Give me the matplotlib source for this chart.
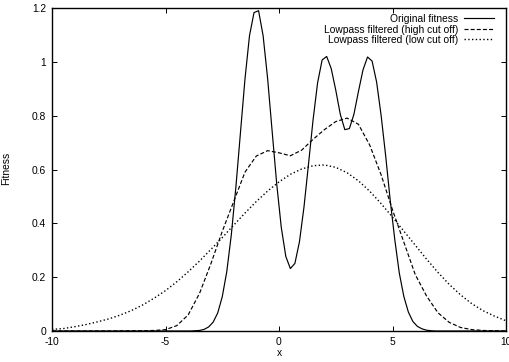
import matplotlib
matplotlib.use("Agg")
import matplotlib.pyplot as plt

plt.rcParams['font.family'] = ['Liberation Sans', 'DejaVu Sans']

# original fitness, sampled every 0.2 where it is non-zero
x_orig = [-10.0, -3.9, -3.7, -3.5, -3.3, -3.1, -2.9, -2.7, -2.5, -2.3, -2.1,
          -1.9, -1.7, -1.5, -1.3, -1.1, -0.9, -0.7, -0.5, -0.3, -0.1,
          0.1, 0.3, 0.5, 0.7, 0.9, 1.1, 1.3, 1.5, 1.7, 1.9,
          2.1, 2.3, 2.5, 2.7, 2.9, 3.1, 3.3, 3.5, 3.7, 3.9,
          4.1, 4.3, 4.5, 4.7, 4.9, 5.1, 5.3, 5.5, 5.7, 5.9,
          6.1, 6.3, 6.5, 6.7, 6.9, 10.0]
y_orig = [0.0, 0.000, 0.001, 0.002, 0.006, 0.015, 0.033, 0.067, 0.127, 0.221, 0.358,
          0.534, 0.735, 0.935, 1.097, 1.183, 1.190, 1.097, 0.937, 0.740, 0.546,
          0.385, 0.277, 0.232, 0.251, 0.331, 0.460, 0.620, 0.784, 0.922, 1.007,
          1.020, 0.975, 0.895, 0.805, 0.748, 0.752, 0.805, 0.890, 0.970, 1.018,
          1.003, 0.925, 0.800, 0.650, 0.485, 0.340, 0.215, 0.128, 0.070, 0.035,
          0.017, 0.008, 0.003, 0.001, 0.000, 0.0]

# filtered curves, sampled every 0.5
x_filt = [-10.0, -9.5, -9.0, -8.5, -8.0, -7.5, -7.0, -6.5, -6.0, -5.5,
          -5.0, -4.5, -4.0, -3.5, -3.0, -2.5, -2.0, -1.5, -1.0, -0.5,
          0.0, 0.5, 1.0, 1.5, 2.0, 2.5, 3.0, 3.5, 4.0, 4.5,
          5.0, 5.5, 6.0, 6.5, 7.0, 7.5, 8.0, 8.5, 9.0, 9.5, 10.0]
y_high = [0.0, 0.0, 0.0, 0.0, 0.0, 0.0, 0.0005, 0.001, 0.001, 0.002,
          0.005, 0.02, 0.06, 0.14, 0.25, 0.37, 0.48, 0.59, 0.65, 0.670,
          0.662, 0.651, 0.672, 0.712, 0.748, 0.778, 0.791, 0.768, 0.69, 0.58,
          0.45, 0.33, 0.21, 0.13, 0.068, 0.032, 0.013, 0.005, 0.002, 0.001, 0.0]
y_low = [0.006, 0.009, 0.016, 0.024, 0.034, 0.045, 0.059, 0.076, 0.097, 0.122,
         0.150, 0.183, 0.220, 0.260, 0.303, 0.347, 0.393, 0.438, 0.481, 0.520,
         0.554, 0.582, 0.602, 0.614, 0.617, 0.608, 0.588, 0.558, 0.519, 0.473,
         0.423, 0.371, 0.319, 0.267, 0.218, 0.173, 0.134, 0.101, 0.075, 0.055, 0.038]

labels = ['Original fitness',
          'Lowpass filtered (high cut off)',
          'Lowpass filtered (low cut off)']

x_ticks = [-10, -5, 0, 5, 10]
y_ticks = [0, 0.2, 0.4, 0.6, 0.8, 1, 1.2]
y_tick_labels = ['0', '0.2', '0.4', '0.6', '0.8', '1', '1.2']

W, H = 509, 362
FS = 7.4


def fitness_plot():
    fig = plt.figure(figsize=(W / 100, H / 100), dpi=100)
    ax = fig.add_axes([52 / W, 1 - 331 / H, 454 / W, 323 / H])

    lw = 0.85
    ax.plot(x_orig, y_orig, color='black', lw=lw, label=labels[0])
    ax.plot(x_filt, y_high, color='black', lw=lw, dashes=(3.4, 1.8), label=labels[1])
    ax.plot(x_filt, y_low, color='black', lw=1.0, dashes=(1.0, 1.7), label=labels[2])

    ax.set_xlim(-10, 10)
    ax.set_ylim(0, 1.2)
    ax.set_xticks(x_ticks)
    ax.set_xticklabels([str(t) for t in x_ticks])
    ax.set_yticks(y_ticks)
    ax.set_yticklabels(y_tick_labels)
    ax.tick_params(direction='in', length=3.3, width=0.7, top=True, right=True,
                   labelsize=FS, pad=4.2)
    for sp in ax.spines.values():
        sp.set_linewidth(1.0)

    ax.set_xlabel('x', fontsize=FS)
    ax.set_ylabel('Fitness', fontsize=FS)
    ax.xaxis.set_label_coords(0.5, -0.052)
    ax.yaxis.set_label_coords(-0.089, 0.505)

    ax.legend(loc='upper right', frameon=False, markerfirst=False, fontsize=FS,
              handlelength=2.9, handletextpad=0.6, labelspacing=0.05,
              borderpad=0, borderaxespad=0,
              bbox_to_anchor=(494 / W, 1 - 14 / H), bbox_transform=fig.transFigure)

    fig.savefig("out.png", dpi=100)


if __name__ == '__main__':
    fitness_plot()
